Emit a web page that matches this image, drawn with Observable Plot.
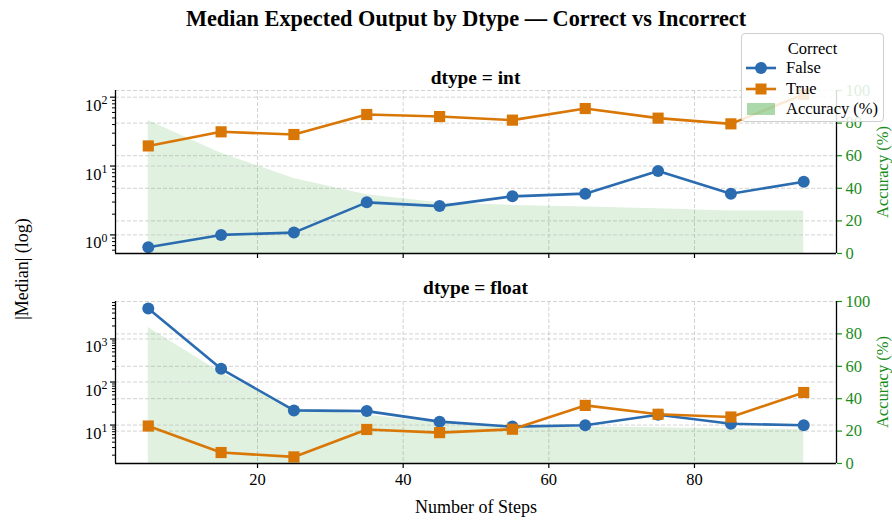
<!DOCTYPE html>
<html>
<head>
<meta charset="utf-8">
<script src="https://cdn.jsdelivr.net/npm/d3@7"></script>
<script src="https://cdn.jsdelivr.net/npm/@observablehq/plot@0.6"></script>
<style>
  body { margin: 0; background: #fff; }
  #chart { position: relative; width: 892px; height: 520px; overflow: hidden;
           font-family: "Liberation Serif", "Times New Roman", serif; color: #000; background: #fff; }
  .layer { position: absolute; left: 0; }
  .txt { position: absolute; white-space: nowrap; transform: translate(-50%, -50%); line-height: 1; }
  .rot { transform: translate(-50%, -50%) rotate(-90deg); }
  .legend { position: absolute; box-sizing: border-box; background: rgba(255,255,255,0.85);
            border: 1px solid #cfcfcf; border-radius: 4px; font-size: 16.5px; }
  .legend .row { position: absolute; left: 4px; display: flex; align-items: center; }
  .legend .row span { margin-left: 10px; }
</style>
</head>
<body>
<div id="chart"></div>
<script>
// ---------- data ----------
const steps = [5, 15, 25, 35, 45, 55, 65, 75, 85, 95];

const intFalse = [0.66, 1.0, 1.08, 2.97, 2.62, 3.63, 3.97, 8.5, 3.97, 5.9];
const intTrue  = [19.6, 31.4, 28.7, 56, 52.3, 46.4, 68.4, 49.6, 41, 110];
const intAcc   = [81.6, 61.5, 46, 36, 31.2, 29.5, 28.5, 27.5, 26.1, 26.1];

const floatFalse = [5100, 202, 21.9, 21.1, 12, 9.2, 9.9, 17.4, 10.7, 9.9];
const floatTrue  = [9.5, 2.3, 1.82, 7.9, 6.67, 8.0, 28.6, 17.8, 15.4, 57];
const floatAcc   = [84, 56, 34, 30, 25, 23, 22.5, 22, 21.5, 21];

const xTicks = [20, 40, 60, 80];
const accTicks = [0, 20, 40, 60, 80, 100];
const majorLog = [1, 10, 100, 1000];

const titleText = "Median Expected Output by Dtype \u2014 Correct vs Incorrect";
const panelTitles = ["dtype = int", "dtype = float"];
const xLabel = "Number of Steps";
const yLabel = "|Median| (log)";
const accLabel = "Accuracy (%)";
const seriesNames = ["False", "True"];
const legendTitle = "Correct";

// ---------- styles / scales ----------
const BLUE = "#2b6cb0", ORANGE = "#d97706", GREEN = "#2ca02c", AXGREEN = "#1a8c1a";
const xDomain = [0.5, 99.5];
const accDomain = [0, 100];
const logDomains = [[Math.pow(10, -0.27), Math.pow(10, 2.097)], [Math.pow(10, 0.107), Math.pow(10, 3.87)]];
const FONT = "'Liberation Serif', 'Times New Roman', serif";
const gridStyle = { stroke: "#c4c4c4", strokeWidth: 1, strokeOpacity: 0.75, strokeDasharray: "4,2" };

const chart = document.getElementById("chart");

function addText(str, x, y, extra, cls) {
  const d = document.createElement("div");
  d.className = "txt" + (cls ? " " + cls : "");
  d.textContent = str;
  d.style.left = x + "px";
  d.style.top = y + "px";
  Object.assign(d.style, extra || {});
  chart.appendChild(d);
  return d;
}

function supify(svg) {
  svg.querySelectorAll('g[aria-label="y-axis tick label"] text').forEach(t => {
    const m = (t.textContent || "").match(/^10\^(-?\d+)$/);
    if (!m) return;
    t.textContent = "10";
    const ts = document.createElementNS("http://www.w3.org/2000/svg", "tspan");
    ts.setAttribute("dy", "-0.55em");
    ts.setAttribute("font-size", "0.72em");
    ts.textContent = m[1];
    t.appendChild(ts);
    t.setAttribute("dy", "0.5em");
  });
}

function panel(cfg) {
  const { top, height, mt, mb, logDomain, fv, tv, acc, showX } = cfg;
  const rows = steps.map((s, i) => ({ step: s, fv: fv[i], tv: tv[i], acc: acc[i] }));
  const common = {
    width: 892, height,
    marginLeft: 115, marginRight: 56, marginTop: mt, marginBottom: mb,
    style: { fontFamily: FONT, fontSize: "16.5px", background: "transparent", overflow: "visible", color: "#000" }
  };

  // Accuracy layer (linear, right axis)
  const accPlot = Plot.plot({
    ...common,
    x: { type: "linear", domain: xDomain, axis: null },
    y: { type: "linear", domain: accDomain },
    marks: [
      Plot.gridX({ ticks: xTicks, ...gridStyle }),
      Plot.gridY({ ticks: accTicks.filter(t => t > 0), ...gridStyle }),
      Plot.areaY(rows, { x: "step", y: "acc", fill: GREEN, fillOpacity: 0.15 }),
      Plot.axisY({ anchor: "right", ticks: accTicks, tickFormat: d => String(d), color: AXGREEN,
                   tickSize: 5, tickPadding: 4, strokeWidth: 1.2, label: null, fontSize: 16.5 })
    ]
  });

  // Median layer (log, left axis)
  const minor = d3.scaleLog().domain(logDomain).ticks().filter(t => !majorLog.includes(t));
  const majors = majorLog.filter(t => t >= logDomain[0] && t <= logDomain[1]);
  const medPlot = Plot.plot({
    ...common,
    x: { type: "linear", domain: xDomain },
    y: { type: "log", domain: logDomain },
    marks: [
      Plot.gridY({ ticks: majors, ...gridStyle }),
      Plot.line(rows, { x: "step", y: "fv", stroke: BLUE, strokeWidth: 2.6 }),
      Plot.dot(rows, { x: "step", y: "fv", fill: BLUE, r: 6, symbol: "circle" }),
      Plot.line(rows, { x: "step", y: "tv", stroke: ORANGE, strokeWidth: 2.6 }),
      Plot.dot(rows, { x: "step", y: "tv", fill: ORANGE, r: 6.3, symbol: "square" }),
      Plot.axisY({ anchor: "left", ticks: majors, tickFormat: d => "10^" + Math.round(Math.log10(d)),
                   tickSize: 5, tickPadding: 3, strokeWidth: 1.2, label: null, fontSize: 16.5 }),
      Plot.axisY({ anchor: "left", ticks: minor, tickFormat: () => "", tickSize: 3, strokeWidth: 1, label: null }),
      Plot.axisX({ anchor: "bottom", ticks: xTicks, tickFormat: showX ? (d => String(d)) : (() => ""),
                   tickSize: 5, tickPadding: 5, strokeWidth: 1.2, label: null, fontSize: 16.5 }),
      Plot.ruleX([xDomain[0]], { stroke: "#000", strokeWidth: 1.3 }),
      Plot.ruleX([xDomain[1]], { stroke: "#000", strokeWidth: 1.3 }),
      Plot.ruleY([logDomain[0]], { stroke: "#000", strokeWidth: 1.3 })
    ]
  });
  supify(medPlot);

  [accPlot, medPlot].forEach(svg => {
    const wrap = document.createElement("div");
    wrap.className = "layer";
    wrap.style.top = top + "px";
    wrap.appendChild(svg);
    chart.appendChild(wrap);
  });
}

panel({ top: 60, height: 215, mt: 30, mb: 22, logDomain: logDomains[0], fv: intFalse, tv: intTrue, acc: intAcc, showX: false });
panel({ top: 270, height: 250, mt: 31, mb: 57, logDomain: logDomains[1], fv: floatFalse, tv: floatTrue, acc: floatAcc, showX: true });

// ---------- texts ----------
addText(titleText, 466, 19, { fontWeight: "bold", fontSize: "22.3px" });
addText(panelTitles[0], 475.5, 78, { fontWeight: "bold", fontSize: "19.4px" });
addText(panelTitles[1], 475.5, 288, { fontWeight: "bold", fontSize: "19.4px" });
addText(xLabel, 476, 507, { fontSize: "18px" });
addText(yLabel, 22, 269, { fontSize: "18px" }, "rot");
addText(accLabel, 883, 172, { fontSize: "16.5px", color: AXGREEN }, "rot");
addText(accLabel, 883, 382, { fontSize: "16.5px", color: AXGREEN }, "rot");

// ---------- legend ----------
const lg = document.createElement("div");
lg.className = "legend";
Object.assign(lg.style, { left: "741px", top: "33px", width: "143px", height: "89px" });
const lt = document.createElement("div");
lt.textContent = legendTitle;
Object.assign(lt.style, { position: "absolute", left: "0", width: "100%", textAlign: "center", top: "5px" });
lg.appendChild(lt);
const handles = [
  `<svg width="30" height="14"><line x1="0" y1="7" x2="30" y2="7" stroke="${BLUE}" stroke-width="2.6"/><circle cx="15" cy="7" r="6" fill="${BLUE}"/></svg>`,
  `<svg width="30" height="14"><line x1="0" y1="7" x2="30" y2="7" stroke="${ORANGE}" stroke-width="2.6"/><rect x="9.5" y="1.5" width="11" height="11" fill="${ORANGE}"/></svg>`,
  `<svg width="30" height="14"><rect x="1" y="1" width="28" height="12" fill="${GREEN}" fill-opacity="0.4"/></svg>`
];
const labels = [seriesNames[0], seriesNames[1], accLabel];
labels.forEach((l, i) => {
  const r = document.createElement("div");
  r.className = "row";
  r.style.top = (24 + i * 20.5) + "px";
  r.innerHTML = handles[i] + "<span></span>";
  r.querySelector("span").textContent = l;
  lg.appendChild(r);
});
chart.appendChild(lg);
</script>
</body>
</html>
